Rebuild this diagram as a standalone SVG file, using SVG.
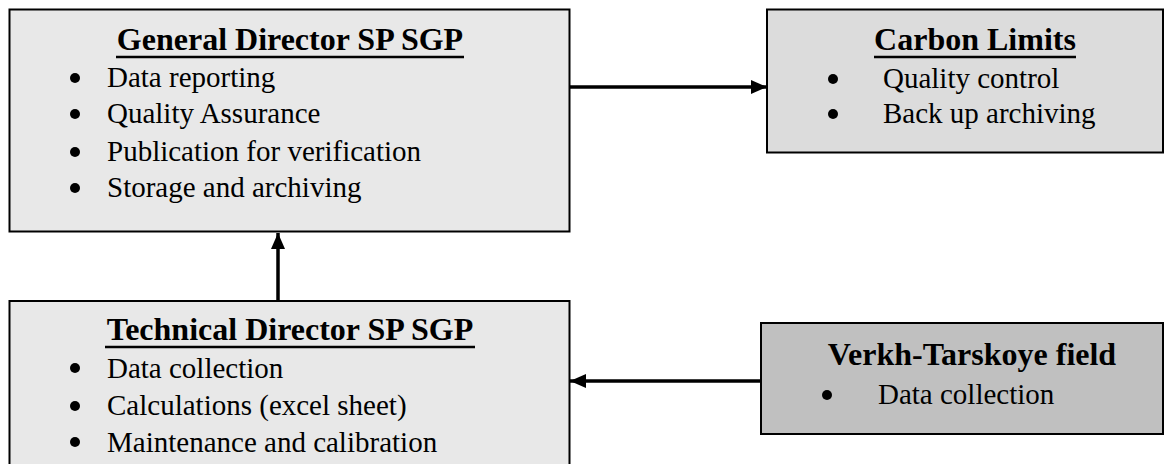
<svg xmlns="http://www.w3.org/2000/svg" width="1167" height="464" viewBox="0 0 1167 464">
<style>
.box{stroke:#000;stroke-width:2}
.t{font-family:"Liberation Serif","Times New Roman",serif;font-size:32px;font-weight:bold;fill:#000;text-anchor:middle}
.ul{stroke:#000;stroke-width:2.5}
.i{font-family:"Liberation Serif","Times New Roman",serif;font-size:29px;fill:#000}
.c{stroke:#000;stroke-width:3.5;fill:none}
</style>
<defs>
<marker id="ah" markerUnits="userSpaceOnUse" markerWidth="16" markerHeight="14" refX="16" refY="7" orient="auto">
<path d="M0,0 L16,7 L0,14 Z" fill="#000"/>
</marker>
</defs>
<g id="general-director">
<rect class="box" x="9.5" y="9.5" width="560" height="222" fill="#e8e8e8"/>
<text class="t" x="290" y="50">General Director SP SGP</text>
<line class="ul" x1="116" y1="57" x2="464" y2="57"/>
<circle cx="75" cy="78" r="5"/><text class="i" x="107" y="87">Data reporting</text>
<circle cx="75" cy="114" r="5"/><text class="i" x="107" y="123">Quality Assurance</text>
<circle cx="75" cy="152" r="5"/><text class="i" x="107" y="161">Publication for verification</text>
<circle cx="75" cy="188" r="5"/><text class="i" x="107" y="197">Storage and archiving</text>
</g>
<g id="carbon-limits">
<rect class="box" x="767" y="9.5" width="396" height="143" fill="#dcdcdc"/>
<text class="t" x="975" y="50">Carbon Limits</text>
<line class="ul" x1="874" y1="57" x2="1076" y2="57"/>
<circle cx="833" cy="79" r="5"/><text class="i" x="883" y="88">Quality control</text>
<circle cx="833" cy="114" r="5"/><text class="i" x="883" y="123">Back up archiving</text>
</g>
<g id="technical-director">
<rect class="box" x="9.5" y="301" width="560" height="200" fill="#e8e8e8"/>
<text class="t" x="290" y="340">Technical Director SP SGP</text>
<line class="ul" x1="105" y1="347" x2="475" y2="347"/>
<circle cx="75" cy="368" r="5"/><text class="i" x="107" y="378">Data collection</text>
<circle cx="75" cy="406" r="5"/><text class="i" x="107" y="415">Calculations (excel sheet)</text>
<circle cx="75" cy="442" r="5"/><text class="i" x="107" y="452">Maintenance and calibration</text>
</g>
<g id="verkh-tarskoye">
<rect class="box" x="761" y="323" width="402" height="111" fill="#c0c0c0"/>
<text class="t" x="972" y="365">Verkh-Tarskoye field</text>
<circle cx="827" cy="395" r="5"/><text class="i" x="878" y="404">Data collection</text>
</g>
<g id="connectors">
<line class="c" x1="570" y1="87" x2="767" y2="87" marker-end="url(#ah)"/>
<line class="c" x1="278" y1="300" x2="278" y2="233" marker-end="url(#ah)"/>
<line class="c" x1="760" y1="381" x2="570" y2="381" marker-end="url(#ah)"/>
</g>
</svg>
